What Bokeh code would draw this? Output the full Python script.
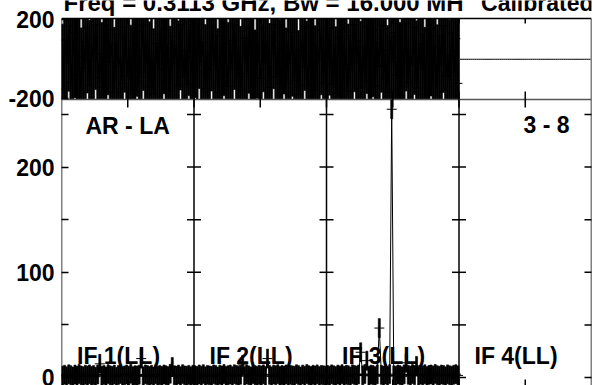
import numpy as np
from bokeh.plotting import figure
from bokeh.models import Range1d, FixedTicker, Label, ColumnDataSource
from bokeh.embed import file_html
from bokeh.resources import INLINE

# ---------------- data ----------------
title_left = "Freq = 0.3113 GHz, Bw = 16.000 MH"
title_right = "Calibrated"
baseline_name = "AR - LA"
antenna_pair = "3 - 8"
if_labels = ["IF 1(LL)", "IF 2(LL)", "IF 3(LL)", "IF 4(LL)"]

phase_if1 = [-152, 97, -23, 168, -118, 41, 135, -77,
             12, -171, 88, -45, 159, -132, 63, -9,
             177, -96, 28, -144, 111, -61, 150, -15,
             74, -168, 126, -38, 5, -123, 163, -84,
             49, -157, 91, -29, 142, -109, 20, 172,
             -66, 103, -140, 35, -175, 80, -51, 129,
             -3, 155, -114, 58, -162, 117, -19, 69,
             -135, 174, -88, 44, -127, 146, -58, 9]
phase_if2 = [131, -64, 177, -12, 86, -149, 38, -101,
             164, -27, 119, -170, 52, -83, 141, 3,
             -138, 95, -47, 172, -116, 66, -158, 24,
             107, -72, 153, -34, 81, -176, 128, -6,
             -97, 160, -53, 113, -143, 31, 176, -89,
             58, -124, 14, 149, -166, 72, -21, 137,
             -108, 45, -179, 99, -40, 167, -131, 17,
             -77, 123, -155, 61, -2, 145, -119, 84]
phase_if3 = [-43, 158, -126, 71, -175, 109, -8, 139,
             -92, 33, -161, 121, -55, 175, -19, 94,
             -147, 57, -110, 166, -70, 26, 150, -134,
             83, -36, 173, -99, 47, -169, 114, -14,
             136, -81, 7, -153, 100, -62, 179, -118,
             40, -26, 162, -145, 76, -49, 127, -178,
             90, -10, 154, -104, 64, -165, 118, -31,
             171, -86, 19, -139, 133, -67, 104, -122]
phase_if4 = [0, 0, 0, 0, 0, 0, 0, 0,
             0, 0, 0, 0, 0, 0, 0, 0,
             0, 0, 0, 0, 0, 0, 0, 0,
             0, 0, 0, 0, 0, 0, 0, 0,
             0, 0, 0, 0, 0, 0, 0, 0,
             0, 0, 0, 0, 0, 0, 0, 0,
             0, 0, 0, 0, 0, 0, 0, 0,
             0, 0, 0, 0, 0, 0, 0, 0]
phase_err = [330.0, 325.0, 340.0, 0.0]

amp_if1 = [1.8, 2.6, 1.2, 3.1, 2.2, 0.9, 2.8, 1.6,
           3.4, 2.0, 1.1, 2.7, 1.9, 3.0, 1.4, 2.3,
           0.8, 2.9, 13.0, 1.7, 2.5, 1.0, 3.2, 2.1,
           1.5, 2.8, 0.7, 2.4, 3.3, 1.3, 2.0, 2.9,
           1.6, 3.6, 1.2, 2.2, 1.9, 2.7, 18.0, 1.1,
           3.0, 2.3, 1.5, 2.6, 0.9, 3.1, 1.8, 2.4,
           1.4, 2.9, 2.1, 1.0, 3.5, 10.0, 2.2, 1.6,
           2.8, 1.3, 3.2, 2.0, 1.7, 2.5, 1.1, 2.6]
amp_if2 = [2.1, 1.4, 2.9, 1.8, 3.2, 1.1, 2.5, 2.0,
           1.6, 3.0, 2.3, 0.9, 2.7, 1.9, 3.3, 1.5,
           2.2, 2.8, 1.2, 3.1, 2.4, 1.7, 2.6, 12.0,
           1.3, 2.9, 2.0, 1.0, 3.4, 2.2, 1.6, 2.7,
           1.9, 3.0, 1.4, 18.0, 2.5, 1.1, 2.8, 2.1,
           3.2, 1.5, 2.4, 1.8, 2.9, 1.2, 2.6, 2.0,
           1.7, 3.1, 2.3, 1.0, 2.8, 1.6, 3.3, 2.2,
           1.4, 2.6, 1.9, 3.0, 1.3, 2.5, 2.1, 1.8]
amp_if3 = [2.4, 1.7, 3.0, 2.1, 1.3, 2.8, 1.9, 3.2,
           1.5, 2.6, 2.2, 1.0, 3.1, 2.4, 1.8, 2.9,
           24.0, 2.0, 3.3, 16.0, 1.6, 2.7, 2.3, 1.2,
           3.0, 47.0, 2.5, 1.9, 2.8, 1.4, 3.2, 255.0,
           2.1, 1.7, 2.9, 2.3, 1.1, 3.0, 14.0, 2.6,
           1.8, 3.3, 2.2, 11.0, 1.5, 2.7, 2.0, 3.1,
           1.3, 2.5, 2.9, 1.9, 3.4, 2.2, 1.6, 2.8,
           2.4, 1.2, 3.0, 2.1, 1.7, 2.6, 3.2, 2.0]
amp_err = [9.0, 9.0, 9.0]

amp_ticks = [0, 50, 100, 150, 200, 250]
amp_tick_text = ["0", "", "100", "", "200", ""]
phase_tick_text = {200: "200", -200: "-200"}
x_ticks = [0.5, 1.0, 1.5, 2.0, 2.5, 3.0, 3.5]
if_edges = [1, 2, 3, 4]

# ---------------- geometry / styling ----------------
W, H = 593, 385
FRAME_L, FRAME_R, BOX_T = 61, 591, 18
AMP0_Y, AMP_PX, DIV_Y = 377.0, 1.052, 99.0
AMP_LO = -(H - AMP0_Y) / AMP_PX
AMP_HI = AMP0_Y / AMP_PX                      # canvas top
AMP_BOX_T = (AMP0_Y - BOX_T) / AMP_PX         # top edge of the phase box
AMP_DIV = (AMP0_Y - DIV_Y) / AMP_PX           # line between the two panels
PH_AMP_LO, PH_AMP_HI = 265.0, 340.0          # where -200 / +200 deg sit on the left axis
DEG_PER_AMP = 400.0 / (PH_AMP_HI - PH_AMP_LO)
PH_MID = (PH_AMP_LO + PH_AMP_HI) / 2
PH_LO = (AMP_LO - PH_MID) * DEG_PER_AMP
PH_HI = (AMP_HI - PH_MID) * DEG_PER_AMP
PH_DIV = (AMP_DIV - PH_MID) * DEG_PER_AMP
PH_BOX_T = (AMP_BOX_T - PH_MID) * DEG_PER_AMP
PX_PER_IF = (FRAME_R - FRAME_L) / 4.0

FONT = "Liberation Sans"
FS = "23px"


def xpx(px):
    return (px - FRAME_L) / PX_PER_IF


def ypx(py):
    return (AMP0_Y - py) / AMP_PX


p = figure(width=W, height=H, output_backend="svg", toolbar_location=None,
           x_range=Range1d(0, 4), y_range=Range1d(AMP_LO, AMP_HI),
           x_axis_location=None, y_axis_location="left",
           min_border_left=FRAME_L, min_border_right=W - FRAME_R,
           min_border_top=0, min_border_bottom=0,
           background_fill_color="white", border_fill_color="white")
p.extra_y_ranges = {"phase": Range1d(PH_LO, PH_HI)}
p.grid.visible = False
p.outline_line_color = None

ax = p.yaxis[0]
ax.ticker = FixedTicker(ticks=amp_ticks + [PH_AMP_LO, PH_AMP_HI], minor_ticks=[])
ov = {t: s for t, s in zip(amp_ticks, amp_tick_text)}
ov[PH_AMP_HI] = phase_tick_text[200]
ov[PH_AMP_LO] = phase_tick_text[-200]
ax.major_label_overrides = ov
ax.major_tick_in = 7
ax.major_tick_out = 0
ax.major_tick_line_width = 1.5
ax.minor_tick_line_color = None
ax.axis_line_color = None
ax.major_label_standoff = 7
ax.major_label_text_font = FONT
ax.major_label_text_font_style = "bold"
ax.major_label_text_font_size = FS
ax.major_label_text_color = "black"

# ---- frame lines (box below the title) ----
p.segment(x0=[0] + if_edges, y0=[AMP_LO] * 5, x1=[0] + if_edges, y1=[AMP_BOX_T] * 5,
          line_color="black", line_width=1.5)
p.segment(x0=[0], y0=[AMP_BOX_T], x1=[4], y1=[AMP_BOX_T], line_color="black", line_width=1.5)

# ---- phase panel ----
phases = [phase_if1, phase_if2, phase_if3, phase_if4]
for k, ph in enumerate(phases):
    n = len(ph)
    xs = np.array([k + (i + 0.5) / n for i in range(n)])
    ph = np.array(ph, dtype=float)
    lo = np.clip(ph - phase_err[k], PH_DIV, PH_BOX_T)
    hi = np.clip(ph + phase_err[k], PH_DIV, PH_BOX_T)
    src = ColumnDataSource(dict(x=xs, y=ph, lo=lo, hi=hi))
    if phase_err[k] > 0:
        p.vbar(x="x", width=1.0 / n, bottom="lo", top="hi", source=src, y_range_name="phase",
               fill_color="black", line_color="black", line_width=0.6)
        p.line("x", "y", source=src, y_range_name="phase", line_color="black", line_width=1.5)
        p.scatter("x", "y", source=src, y_range_name="phase", marker="cross",
                  size=9, line_color="black", line_width=1)
    else:
        p.line("x", "y", source=src, y_range_name="phase", line_color="black", line_width=1)

p.segment(x0=[0], y0=[AMP_DIV], x1=[4], y1=[AMP_DIV], line_color="#555555", line_width=1.5)

# ---- amplitude panel ----
amps = [amp_if1, amp_if2, amp_if3]
for k, am in enumerate(amps):
    n = len(am)
    xs = np.array([k + (i + 0.5) / n for i in range(n)])
    am = np.array(am, dtype=float)
    lo = am - amp_err[k]
    hi = np.clip(am + amp_err[k], None, AMP_DIV)
    src = ColumnDataSource(dict(x=xs, y=am, lo=lo, hi=hi))
    p.vbar(x="x", width=1.0 / n, bottom="lo", top="hi", source=src,
           fill_color="black", line_color="black", line_width=0.6)
    p.line("x", "y", source=src, line_color="black", line_width=1)
    p.scatter("x", "y", source=src, marker="cross", size=10, line_color="black", line_width=1)

# ---- tick marks inside panels ----
tx, ty = [], []
for e in if_edges:
    for t in amp_ticks:
        tx.append(e)
        ty.append(t)
p.scatter(tx, ty, marker="dash", size=14, line_color="black", line_width=1.5)
p.scatter(x_ticks, [AMP_DIV] * len(x_ticks), marker="dash", angle=np.pi / 2,
          size=16, line_color="black", line_width=1.5)
p.segment(x0=x_ticks, y0=[AMP_BOX_T] * len(x_ticks), x1=x_ticks,
          y1=[ypx(BOX_T + 5)] * len(x_ticks), line_color="black", line_width=1.5)
p.scatter(x_ticks, [ypx(386)] * len(x_ticks), marker="dash", angle=np.pi / 2,
          size=14, line_color="black", line_width=1.5)

# ---- texts ----
def lab(x, y, text, size=FS, align="left"):
    p.add_layout(Label(x=x, y=y, text=text, text_font=FONT, text_font_style="bold",
                       text_font_size=size, text_color="black", text_baseline="middle",
                       text_align=align))

lab(xpx(63), ypx(2), title_left, "24px")
lab(xpx(593), ypx(2), title_right, "23px", "right")
lab(xpx(85), ypx(125), baseline_name)
lab(xpx(523), ypx(124), antenna_pair)
for k, t in enumerate(if_labels):
    lab(k + 0.117, ypx(355), t)

open("out.html", "w").write(file_html(p, INLINE))
